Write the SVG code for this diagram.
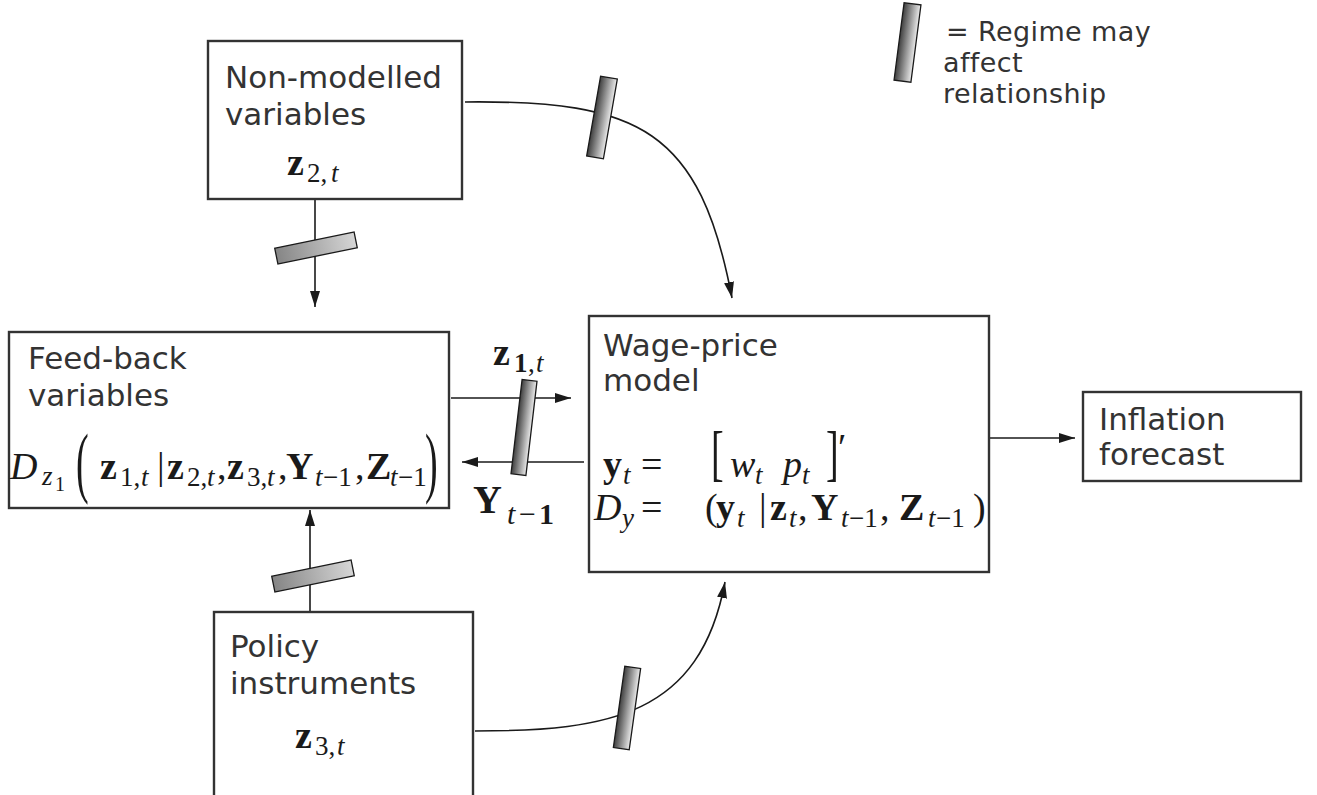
<svg xmlns="http://www.w3.org/2000/svg" width="1317" height="795" viewBox="0 0 1317 795">
<style>
.box{fill:#fff;stroke:#333;stroke-width:2.4}
.t{font-family:"DejaVu Sans","Liberation Sans",sans-serif;font-size:31px;fill:#333}
.lg{font-family:"DejaVu Sans","Liberation Sans",sans-serif;font-size:27px;letter-spacing:0.4px;fill:#333}
.m{font-family:"Liberation Serif",serif;font-size:38px;fill:#1a1a1a}
.b{font-weight:bold}
.i{font-style:italic}
.s{font-size:27px}
.ss{font-size:20px}
.c{fill:none;stroke:#1a1a1a;stroke-width:1.6}
.barv{fill:url(#gv);stroke:#1a1a1a;stroke-width:1.3}
.barh{fill:url(#gh);stroke:#1a1a1a;stroke-width:1.3}
</style>
<defs>
<linearGradient id="gv" x1="0" y1="0" x2="1" y2="0"><stop offset="0" stop-color="#3e3e3e"/><stop offset="1" stop-color="#ececec"/></linearGradient>
<linearGradient id="gh" x1="0" y1="0" x2="1" y2="0"><stop offset="0" stop-color="#858585"/><stop offset="1" stop-color="#d6d6d6"/></linearGradient>
<marker id="ah" markerUnits="userSpaceOnUse" markerWidth="17" markerHeight="10" refX="16" refY="5" orient="auto"><path d="M0,0 L16,5 L0,10 z" fill="#1a1a1a"/></marker>
</defs>

<g id="connectors">
<path class="c" d="M315,200 L315,307" marker-end="url(#ah)"/>
<path class="c" d="M465,102 C640,100 700,130 732,298" marker-end="url(#ah)"/>
<path class="c" d="M451,398 L571,398" marker-end="url(#ah)"/>
<path class="c" d="M584,462 L462,462" marker-end="url(#ah)"/>
<path class="c" d="M989,438 L1075,438" marker-end="url(#ah)"/>
<path class="c" d="M310,612 L310,510" marker-end="url(#ah)"/>
<path class="c" d="M475,731 C610,731 700,715 725,582" marker-end="url(#ah)"/>
</g>

<g id="regime-markers">
<rect class="barh" x="-40.5" y="-8" width="81" height="16" transform="translate(316,248) rotate(-11.5)"/>
<rect class="barh" x="-40.5" y="-8" width="81" height="16" transform="translate(313,576) rotate(-11.5)"/>
<rect class="barv" x="-8.5" y="-40.5" width="17" height="81" transform="translate(602,117.5) rotate(9.9)"/>
<rect class="barv" x="-7.5" y="-47.5" width="15" height="95" transform="translate(524,427.5) rotate(6.7)"/>
<rect class="barv" x="-8" y="-41" width="16" height="82" transform="translate(627,708) rotate(8)"/>
</g>

<g id="legend">
<rect class="barv" x="-8.5" y="-39" width="17" height="78" transform="translate(907.5,42.5) rotate(7.4)"/>
<text class="lg" x="946" y="41">= Regime may</text>
<text class="lg" x="943" y="72">affect</text>
<text class="lg" x="943" y="103">relationship</text>
</g>

<g id="node-nonmodelled">
<rect class="box" x="208" y="41" width="254" height="158"/>
<text class="t" x="225" y="88">Non-modelled</text>
<text class="t" x="225" y="125">variables</text>
<text class="m"><tspan class="b" x="287" y="175">z</tspan><tspan class="s" x="307" y="182">2,</tspan><tspan class="s i" x="331" y="182">t</tspan></text>
</g>

<g id="node-feedback">
<rect class="box" x="9" y="332" width="440" height="176"/>
<text class="t" x="28" y="369">Feed-back</text>
<text class="t" x="28" y="406">variables</text>
<text class="m"><tspan class="i" x="10" y="479">D</tspan><tspan class="i s" x="42" y="485">z</tspan><tspan class="ss" x="55" y="491">1</tspan><tspan class="b" x="100" y="479">z</tspan><tspan class="s" x="120" y="486">1,</tspan><tspan class="s i" x="141" y="486">t</tspan><tspan x="157" y="479">|</tspan><tspan class="b" x="167" y="479">z</tspan><tspan class="s" x="187" y="486">2,</tspan><tspan class="s i" x="207" y="486">t</tspan><tspan x="217" y="479">,</tspan><tspan class="b" x="227" y="479">z</tspan><tspan class="s" x="247" y="486">3,</tspan><tspan class="s i" x="267" y="486">t</tspan><tspan x="278" y="479">,</tspan><tspan class="b" x="286" y="479">Y</tspan><tspan class="s i" x="315" y="486">t</tspan><tspan class="s" x="323" y="486">−1</tspan><tspan x="355" y="479">,</tspan><tspan class="b" x="366" y="479">Z</tspan><tspan class="s i" x="390" y="486">t</tspan><tspan class="s" x="398" y="486">−1</tspan></text>
<text class="m" transform="translate(76,488) scale(1,2.05)">(</text>
<text class="m" transform="translate(425,488) scale(1,2.05)">)</text>
</g>

<g id="node-wageprice">
<rect class="box" x="589" y="316" width="400" height="256"/>
<text class="t" x="603" y="356">Wage-price</text>
<text class="t" x="603" y="391">model</text>
<text class="m"><tspan class="b" x="603" y="477">y</tspan><tspan class="s i" x="623" y="484">t</tspan><tspan x="641" y="477">=</tspan><tspan class="i" x="730" y="477">w</tspan><tspan class="s i" x="755" y="484">t</tspan><tspan class="i" x="783" y="477">p</tspan><tspan class="s i" x="802" y="484">t</tspan><tspan x="838" y="460">′</tspan></text>
<text class="m" transform="translate(711,473.5) scale(1,1.6)">[</text>
<text class="m" transform="translate(826,473.5) scale(1,1.6)">]</text>
<text class="m"><tspan class="i" x="594" y="520">D</tspan><tspan class="s i" x="622" y="527">y</tspan><tspan x="641" y="520">=</tspan><tspan x="705" y="520">(</tspan><tspan class="b" x="716" y="520">y</tspan><tspan class="s i" x="737" y="527">t</tspan><tspan x="759" y="520">|</tspan><tspan class="b" x="770" y="520">z</tspan><tspan class="s i" x="789" y="527">t</tspan><tspan x="798" y="520">,</tspan><tspan class="b" x="811" y="520">Y</tspan><tspan class="s i" x="841" y="527">t</tspan><tspan class="s" x="849" y="527">−1</tspan><tspan x="880" y="520">,</tspan><tspan class="b" x="899" y="520">Z</tspan><tspan class="s i" x="928" y="527">t</tspan><tspan class="s" x="936" y="527">−1</tspan><tspan x="973" y="520">)</tspan></text>
</g>

<g id="label-z1t">
<text class="m"><tspan class="b" x="493" y="365">z</tspan><tspan class="s b" x="514" y="372">1</tspan><tspan class="s" x="528" y="372">,</tspan><tspan class="s i" x="536" y="372">t</tspan></text>
</g>
<g id="label-Yt1">
<text class="m"><tspan class="b" x="473" y="513" font-size="40">Y</tspan><tspan class="i" x="507" y="524" font-size="30">t</tspan><tspan x="519" y="524" font-size="30">−</tspan><tspan class="b" x="539" y="524" font-size="30">1</tspan></text>
</g>

<g id="node-inflation">
<rect class="box" x="1083" y="392" width="218" height="89"/>
<text class="t" x="1099" y="430">Inflation</text>
<text class="t" x="1099" y="465">forecast</text>
</g>

<g id="node-policy">
<rect class="box" x="214" y="612" width="259" height="220"/>
<text class="t" x="230" y="657">Policy</text>
<text class="t" x="230" y="694">instruments</text>
<text class="m"><tspan class="b" x="295" y="748">z</tspan><tspan class="s" x="315" y="755">3,</tspan><tspan class="s i" x="337" y="755">t</tspan></text>
</g>
</svg>
